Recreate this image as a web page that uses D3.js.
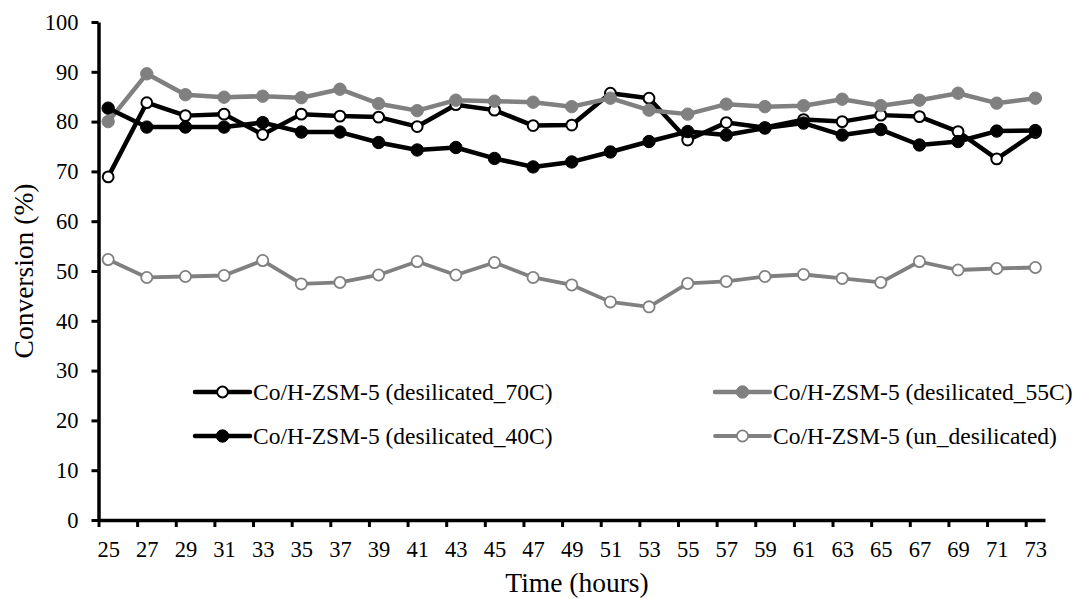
<!DOCTYPE html>
<html>
<head>
<meta charset="utf-8">
<script src="https://cdn.jsdelivr.net/npm/d3@7"></script>
<style>
  html, body { margin: 0; padding: 0; background: #fff; }
  svg text { font-family: "Liberation Serif", "Times New Roman", Times, serif !important; fill: #000; }
</style>
</head>
<body>
<svg id="chart" width="1083" height="599"></svg>
<script>
const hours = [25,27,29,31,33,35,37,39,41,43,45,47,49,51,53,55,57,59,61,63,65,67,69,71,73];
const yTicks = [0,10,20,30,40,50,60,70,80,90,100];

const seriesNames = [
  "Co/H-ZSM-5 (desilicated_70C)",
  "Co/H-ZSM-5 (desilicated_55C)",
  "Co/H-ZSM-5 (desilicated_40C)",
  "Co/H-ZSM-5 (un_desilicated)"
];
const desil70 = [68.9,83.8,81.2,81.5,77.4,81.5,81.1,80.9,79.0,83.4,82.3,79.2,79.3,85.7,84.7,76.3,79.8,78.8,80.4,80.0,81.3,81.0,78.0,72.5,77.8];
const desil55 = [80.0,89.6,85.4,84.9,85.1,84.8,86.5,83.6,82.2,84.3,84.1,83.9,83.0,84.7,82.3,81.5,83.5,83.0,83.2,84.5,83.2,84.3,85.7,83.7,84.7];
const desil40 = [82.7,78.9,78.9,78.9,79.8,77.9,77.9,75.8,74.3,74.8,72.6,70.9,71.9,73.9,76.0,78.0,77.3,78.7,79.7,77.3,78.4,75.3,76.0,78.1,78.2];
const undesil = [52.3,48.7,48.9,49.1,52.1,47.4,47.7,49.2,51.9,49.2,51.7,48.7,47.2,43.8,42.8,47.5,47.9,48.9,49.3,48.5,47.7,51.9,50.2,50.5,50.7];

const seriesValues = [desil70, desil55, desil40, undesil];
const styles = [
  {line:"#000", lw:4.5, fill:"#fff", stroke:"#000", sw:2, r:5.4},
  {line:"#808080", lw:4.5, fill:"#808080", stroke:"#808080", sw:1, r:6.2},
  {line:"#000", lw:4.5, fill:"#000", stroke:"#000", sw:1, r:6.2},
  {line:"#808080", lw:3.8, fill:"#fff", stroke:"#808080", sw:1.8, r:5.6}
];

const svg = d3.select("#chart");
const x = d3.scaleLinear().domain([24.5, 73.5]).range([98.5, 1045]);
const y = d3.scaleLinear().domain([0, 100]).range([520, 22]);

// Y axis
const yAxis = svg.append("g").attr("transform", "translate(98.5,0)")
  .call(d3.axisLeft(y).tickValues(yTicks).tickSize(7).tickPadding(13).tickSizeOuter(0));
yAxis.select(".domain").attr("stroke", "#000").attr("stroke-width", 3.5);
yAxis.selectAll(".tick line").attr("stroke", "#000").attr("stroke-width", 3);
yAxis.selectAll(".tick text").attr("font-size", 22.5);

// X axis ticks (category boundaries)
const boundaries = hours.map(h => h - 0.5);
const xAxisTicks = svg.append("g").attr("transform", "translate(0,520)")
  .call(d3.axisBottom(x).tickValues(boundaries).tickSize(7).tickFormat("").tickSizeOuter(0));
xAxisTicks.select(".domain").attr("stroke", "#000").attr("stroke-width", 3.5);
xAxisTicks.selectAll(".tick line").attr("stroke", "#000").attr("stroke-width", 3);

// X labels
const xAxisLabels = svg.append("g").attr("transform", "translate(0,520)")
  .call(d3.axisBottom(x).tickValues(hours).tickSize(0).tickPadding(21).tickFormat(d3.format("d")));
xAxisLabels.select(".domain").remove();
xAxisLabels.selectAll(".tick text").attr("font-size", 22.5);

// Titles
svg.append("text").attr("x", 577).attr("y", 592).attr("text-anchor", "middle")
  .attr("font-size", 27.5).text("Time (hours)");
svg.append("text").attr("transform", "translate(33,271) rotate(-90)").attr("text-anchor", "middle")
  .attr("font-size", 27.5).text("Conversion (%)");

// Series
const line = d3.line().x((d, i) => x(hours[i])).y(d => y(d));
seriesValues.forEach((vals, s) => {
  const st = styles[s];
  const g = svg.append("g");
  g.append("path").datum(vals).attr("d", line).attr("fill", "none")
    .attr("stroke", st.line).attr("stroke-width", st.lw).attr("stroke-linejoin", "round");
  g.selectAll("circle").data(vals).join("circle")
    .attr("cx", (d, i) => x(hours[i])).attr("cy", d => y(d)).attr("r", st.r)
    .attr("fill", st.fill).attr("stroke", st.stroke).attr("stroke-width", st.sw);
});

// Legend
const legendPos = [
  {x0:195, y:392}, {x0:715, y:392}, {x0:195, y:436}, {x0:715, y:436}
];
seriesNames.forEach((name, s) => {
  const st = styles[s];
  const p = legendPos[s];
  const g = svg.append("g");
  g.append("line").attr("x1", p.x0).attr("x2", p.x0 + 55).attr("y1", p.y).attr("y2", p.y)
    .attr("stroke", st.line).attr("stroke-width", st.lw).attr("stroke-linecap", "round");
  g.append("circle").attr("cx", p.x0 + 27.5).attr("cy", p.y).attr("r", st.r)
    .attr("fill", st.fill).attr("stroke", st.stroke).attr("stroke-width", st.sw);
  g.append("text").attr("x", p.x0 + 58).attr("y", p.y).attr("dy", "0.33em")
    .attr("font-size", 23.5).text(name);
});
</script>
</body>
</html>
